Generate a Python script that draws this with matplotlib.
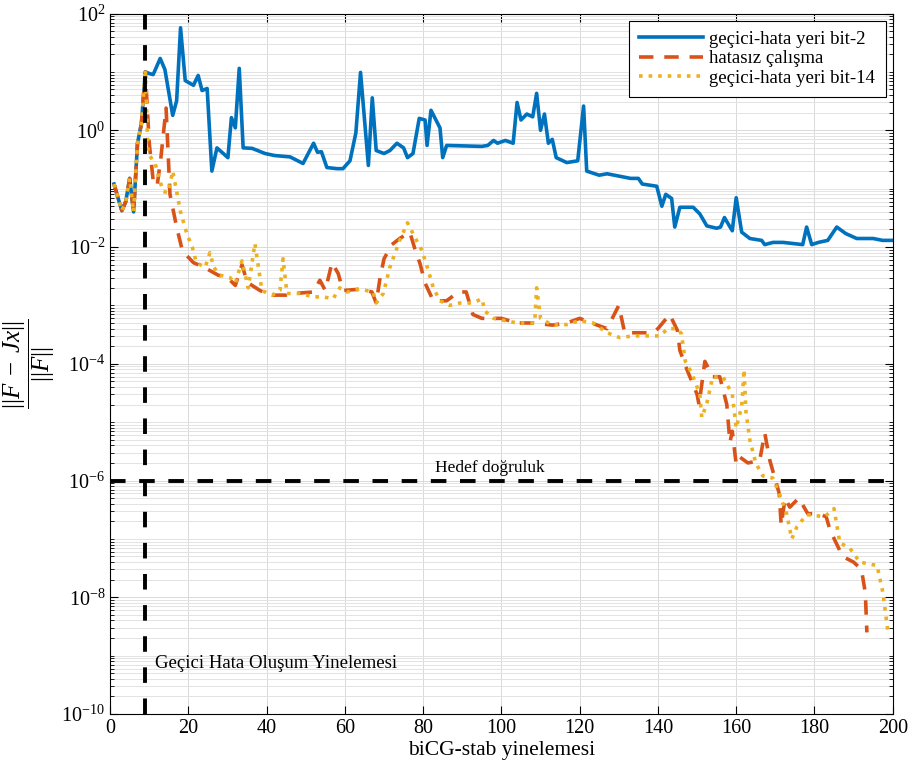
import math
import matplotlib
matplotlib.use('Agg')
import matplotlib.pyplot as plt
from matplotlib.ticker import FixedLocator, FuncFormatter, NullFormatter

# ---- DATA ----
# first iterations are common to all three runs
x_common = [1, 2, 3, 4, 5, 6, 7, 8]
y_common = [0.12, 0.07, 0.042, 0.06, 0.15, 0.04, 0.6, 1.3]

# geçici-hata yeri bit-2
x_bit2 = x_common + [9, 10, 11, 12.8, 14, 16, 17, 18, 19.2, 21.3, 22.5, 23.5, 24.8, 26,
                     27.3, 30.1, 31, 32, 33, 34, 36.3, 39.6, 42, 46, 49.3, 52, 53, 54,
                     55.4, 58, 59.5, 61.3, 62.8, 64, 66, 67, 68, 70, 71.5, 73.3, 75, 76,
                     77.4, 79, 80.5, 81, 82, 84.3, 85, 86, 95, 96.5, 98, 99, 101, 103,
                     104, 105, 106.5, 108, 109, 110, 111, 112, 113, 114, 116.7, 119.5,
                     121, 121.8, 125, 127, 133, 135, 136, 139.7, 141, 142, 143.5, 144.3,
                     145.6, 149, 150.7, 152.5, 155, 156, 157, 159, 160, 161.4, 163.5,
                     166.5, 167.3, 169.4, 172, 177, 178, 179.3, 181, 183.4, 185.7, 188,
                     190.8, 195, 197.4, 200]
y_bit2 = y_common + [10, 9.4, 9.0, 17, 11, 1.8, 3.2, 57, 7.1, 5.9, 8.7, 4.8, 5.2, 0.2,
                     0.5, 0.34, 1.65, 1.1, 11.5, 0.5, 0.49, 0.4, 0.37, 0.35, 0.27, 0.6, 0.42, 0.43,
                     0.23, 0.22, 0.22, 0.3, 0.9, 9.8, 0.25, 3.6, 0.45, 0.4, 0.45, 0.6, 0.5, 0.34,
                     0.4, 1.6, 1.5, 0.55, 2.2, 1.1, 0.34, 0.55, 0.53, 0.55, 0.67, 0.6, 0.67, 0.6,
                     3.0, 1.5, 1.9, 1.7, 4.3, 1.0, 1.9, 0.6, 0.7, 0.34, 0.28, 0.3,
                     2.6, 0.2, 0.17, 0.18, 0.15, 0.15, 0.12, 0.11, 0.05, 0.08, 0.068, 0.022,
                     0.048, 0.048, 0.037, 0.023, 0.021, 0.022, 0.032, 0.019, 0.07, 0.018, 0.014,
                     0.013, 0.011, 0.012, 0.012, 0.011, 0.022, 0.011, 0.012, 0.013, 0.022, 0.017,
                     0.014, 0.014, 0.013, 0.013]

# hatasız çalışma
x_clean = x_common + [9, 10, 11, 12, 13, 14.3, 15.3, 17, 18.5, 21.3, 24, 27.6, 30, 32,
                      33.7, 35, 38.3, 41, 45, 47, 52, 53.6, 55, 56.7, 58.3, 59.5, 64,
                      66.9, 68, 69, 70, 72, 74, 76.6, 78, 79.2, 80.5, 82.6, 84.3, 86, 89,
                      91, 92.7, 95, 98, 100, 104, 108, 113, 116.7, 120, 123, 127, 130,
                      131.5, 133.6, 138.7, 140, 143, 145, 145.6, 147.4, 150, 150.5, 152,
                      154, 155.8, 157.6, 158.4, 159, 160, 161, 163, 166, 167.3, 168.6,
                      171, 171.5, 172.5, 173.7, 176, 178.3, 181, 183, 184, 187.2, 190,
                      192, 193, 193.4]
y_clean = y_common + [10, 0.6, 0.14, 0.11, 0.35, 2.4, 0.08, 0.022, 0.0085, 0.0054, 0.0045, 0.0033, 0.003, 0.0022,
                      0.005, 0.0025, 0.0018, 0.0015, 0.0015, 0.0016, 0.0017, 0.0027, 0.0018, 0.0054, 0.0035, 0.0018, 0.0019,
                      0.0017, 0.0011, 0.003, 0.0063, 0.011, 0.014, 0.018, 0.0087, 0.0052, 0.0024, 0.0012, 0.0012, 0.0012, 0.0017,
                      0.0017, 0.0007, 0.0006, 0.0006, 0.0006, 0.0005, 0.0005, 0.00046, 0.0005, 0.0006, 0.0005, 0.0004, 0.001,
                      0.00034, 0.00034, 0.00034, 0.0004, 0.0007, 0.00037, 0.00017, 0.00008, 0.00003, 0.00002, 0.00011,
                      0.00006, 0.00006, 0.00002, 4.5e-6, 7e-6, 1.9e-6, 2.5e-6, 2.0e-6, 2.2e-6, 6.5e-6, 2.2e-6,
                      6e-7, 1.7e-7, 5e-7, 3.5e-7, 5e-7, 2.7e-7, 2.7e-7, 2.4e-7, 1.4e-7, 5e-8, 4e-8,
                      3e-8, 1.2e-8, 2.5e-9]

# geçici-hata yeri bit-14
x_bit14 = x_common + [9, 9.7, 11.5, 13.5, 14.8, 16, 17, 18, 19.6, 21.3, 22, 24.3, 25.5,
                      26.5, 28, 30.6, 32, 33.7, 35.3, 37, 38.8, 41.4, 43.4, 44.2, 45.2,
                      48.5, 52, 54.4, 57, 58.7, 60.5, 63.8, 67.2, 68, 69.8, 71.5, 74, 76,
                      78.3, 79.7, 81.3, 82.6, 84.3, 86.8, 89.4, 92.7, 95, 95.8, 98, 104,
                      108.5, 109, 110, 113, 116.7, 120, 123.4, 127, 130.3, 133.6, 140.5,
                      142.5, 144.8, 146, 147, 148.6, 150.7, 151.2, 152.5, 154, 156.6,
                      157.6, 159, 160, 161.4, 162, 162.5, 163.5, 165, 166.8, 169.4, 171,
                      172.9, 174.2, 175.5, 178, 182.6, 185, 186.5, 189, 191.6, 196, 197.5,
                      198.7]
y_bit14 = y_common + [11, 0.4, 0.27, 0.09, 0.085, 0.2, 0.09, 0.04, 0.017, 0.0087, 0.0054, 0.0045, 0.008,
                      0.0045, 0.0033, 0.003, 0.0024, 0.0058, 0.002, 0.0115, 0.0018, 0.0015, 0.0018, 0.0063, 0.0016,
                      0.0016, 0.0014, 0.0014, 0.0013, 0.002, 0.0017, 0.0019, 0.0017, 0.0011, 0.0016, 0.0045, 0.013, 0.026,
                      0.013, 0.0087, 0.004, 0.002, 0.0012, 0.001, 0.0011, 0.0011, 0.0013, 0.0008, 0.0006, 0.0005,
                      0.0005, 0.002, 0.0006, 0.00046, 0.00047, 0.00055, 0.0005, 0.00034, 0.00028, 0.0003, 0.0003,
                      0.0004, 0.0004, 0.00033, 0.00011, 0.00007, 0.00003, 1.2e-5, 2.1e-5, 0.00006, 0.00006,
                      0.000045, 0.00003, 7.9e-6, 1.85e-5, 8e-5, 1.5e-5, 4.9e-6, 2e-6, 1.2e-6, 1.1e-6, 6e-7,
                      2.7e-7, 1e-7, 1.6e-7, 2.6e-7, 2.4e-7, 3.3e-7, 8.5e-8, 7e-8, 4e-8, 3.5e-8, 1.2e-8,
                      2.8e-9]

fault_iter = 9          # geçici hata oluşum yinelemesi
target_tol = 1e-6       # hedef doğruluk

# ---- STYLE ----
plt.rcParams['font.family'] = ['Liberation Serif', 'DejaVu Serif']
plt.rcParams['mathtext.fontset'] = 'custom'
plt.rcParams['mathtext.rm'] = 'Liberation Serif'
plt.rcParams['mathtext.it'] = 'Liberation Serif:italic'

fig = plt.figure(figsize=(9.1, 7.74), dpi=100)
ax = fig.add_axes([0.121, 0.0775, 0.860, 0.905])

ax.plot(x_bit2, y_bit2, color='#0072BD', lw=2.6, label='geçici-hata yeri bit-2')
ax.plot(x_clean, y_clean, color='#D95319', lw=2.6, dashes=(4, 3), label='hatasız çalışma')
ax.plot(x_bit14, y_bit14, color='#EDB120', lw=2.6, linestyle=':', label='geçici-hata yeri bit-14')

ax.axvline(fault_iter, color='black', lw=2.8, dashes=(4, 4))
ax.axhline(target_tol, color='black', lw=2.8, dashes=(4, 3.5))

ax.text(97, 10**-5.78, 'Hedef doğruluk', ha='center', va='center', fontsize=12.5)
ax.text(11.5, 10**-9.13, 'Geçici Hata Oluşum Yinelemesi', ha='left', va='center', fontsize=13.5)

ax.set_yscale('log')
ax.set_xlim(0, 200)
ax.set_ylim(1e-10, 1e2)
ax.set_xticks(range(0, 201, 20))

majors = [10.0**k for k in range(-10, 3, 2)]
minors = [m * 10.0**k for k in range(-10, 2) for m in range(1, 10) if not (m == 1 and k % 2 == 0)]
ax.yaxis.set_major_locator(FixedLocator(majors))
ax.yaxis.set_minor_locator(FixedLocator(minors))
ax.yaxis.set_major_formatter(FuncFormatter(lambda v, p: r'$10^{%d}$' % round(math.log10(v))))
ax.yaxis.set_minor_formatter(NullFormatter())

ax.tick_params(which='both', direction='in', top=True, right=True, labelsize=14.5)
ax.tick_params(which='major', length=6)
ax.tick_params(which='minor', length=3)
ax.grid(which='major', color='#d9d9d9', lw=0.7)
ax.grid(which='minor', axis='y', color='#e3e3e3', lw=0.7)
ax.set_axisbelow(True)

ax.set_xlabel('biCG-stab yinelemesi', fontsize=15.5, labelpad=2)
ax.set_ylabel(r'$\dfrac{||F\;-\;Jx||}{||F||}$', fontsize=18, labelpad=3)

leg = ax.legend(loc='upper right', bbox_to_anchor=(0.991, 0.990), fontsize=13.5,
                handlelength=3.4, handletextpad=0.35, fancybox=False, edgecolor='black',
                framealpha=1, borderaxespad=0, borderpad=0.55, labelspacing=0.12)
leg.get_frame().set_linewidth(0.8)

plt.savefig('out.png', dpi=100)
